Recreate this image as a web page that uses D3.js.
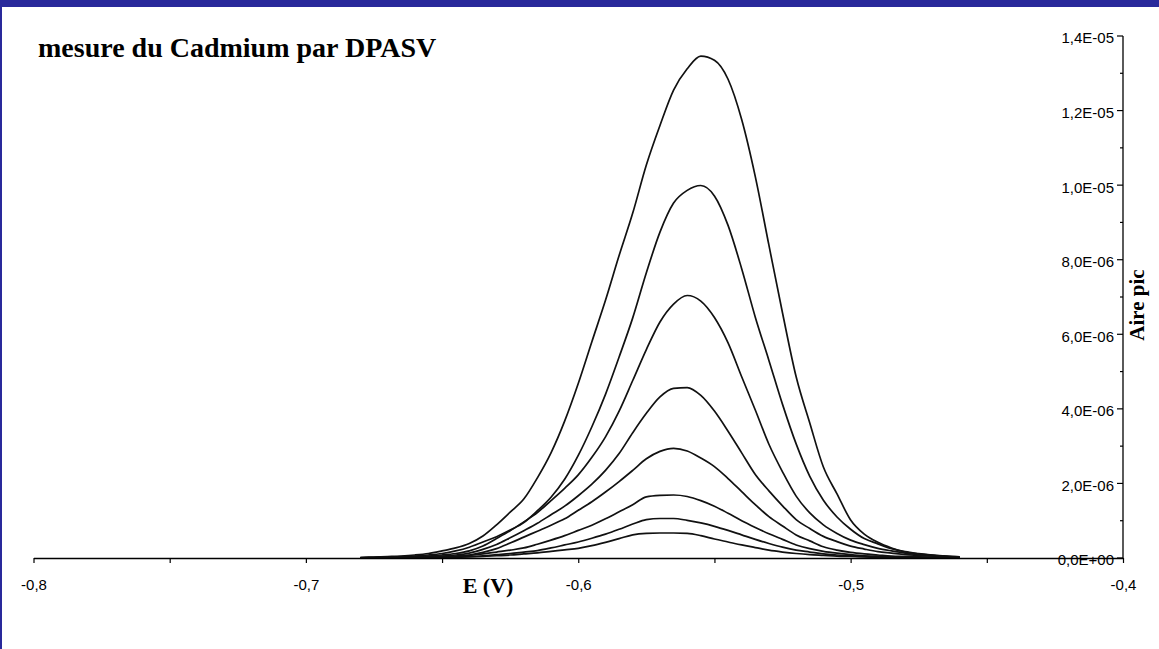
<!DOCTYPE html>
<html>
<head>
<meta charset="utf-8">
<script src="https://cdn.jsdelivr.net/npm/d3@7"></script>
<style>
  body { margin: 0; background: #ffffff; }
  text { fill: #000; }
</style>
</head>
<body>
<div id="main"><svg width="1159" height="649"></svg></div>
<script>
var svg = d3.select("#main svg");

var svgWidth = +svg.attr('width');
var svgHeight = +svg.attr('height');

// potentiel E (V), pas de 5 mV
var E = [-0.680, -0.675, -0.670, -0.665, -0.660, -0.655, -0.650, -0.645, -0.640,
  -0.635, -0.630, -0.625, -0.620, -0.615, -0.610, -0.605, -0.600, -0.595, -0.590,
  -0.585, -0.580, -0.575, -0.570, -0.565, -0.560, -0.555, -0.550, -0.545, -0.540,
  -0.535, -0.530, -0.525, -0.520, -0.515, -0.510, -0.505, -0.500, -0.495, -0.490,
  -0.485, -0.480, -0.475, -0.470, -0.465, -0.460];

// courants (x 1E-06), une courbe par ajout
var curve1 = [0.013, 0.027, 0.04, 0.054, 0.08, 0.12, 0.19, 0.27, 0.39, 0.59, 0.89,
  1.23, 1.58, 2.15, 2.82, 3.67, 4.68, 5.80, 6.91, 8.11, 9.25, 10.54, 11.60, 12.55,
  13.12, 13.46, 13.35, 12.84, 11.76, 10.23, 8.39, 6.57, 4.86, 3.62, 2.44, 1.72,
  1.02, 0.64, 0.42, 0.27, 0.16, 0.11, 0.07, 0.04, 0.03];
var curve2 = [0.008, 0.013, 0.027, 0.04, 0.054, 0.08, 0.12, 0.19, 0.29, 0.43, 0.57,
  0.75, 0.95, 1.27, 1.63, 2.11, 2.75, 3.52, 4.39, 5.39, 6.44, 7.65, 8.74, 9.52,
  9.86, 9.99, 9.71, 8.92, 7.76, 6.46, 5.30, 4.12, 3.06, 2.19, 1.55, 1.10, 0.77,
  0.52, 0.38, 0.25, 0.17, 0.12, 0.08, 0.05, 0.03];
var curve3 = [0.005, 0.011, 0.019, 0.027, 0.04, 0.054, 0.08, 0.12, 0.19, 0.32, 0.52,
  0.73, 0.97, 1.22, 1.54, 1.87, 2.23, 2.70, 3.25, 3.94, 4.76, 5.59, 6.33, 6.81,
  7.04, 6.89, 6.45, 5.77, 4.86, 3.97, 3.05, 2.31, 1.66, 1.21, 0.89, 0.66, 0.48,
  0.36, 0.26, 0.19, 0.13, 0.09, 0.07, 0.05, 0.03];
var curve4 = [0.005, 0.008, 0.013, 0.021, 0.027, 0.04, 0.054, 0.08, 0.13, 0.23, 0.36,
  0.54, 0.73, 0.93, 1.16, 1.39, 1.67, 1.98, 2.35, 2.80, 3.36, 3.88, 4.32, 4.55,
  4.57, 4.36, 3.94, 3.40, 2.82, 2.24, 1.80, 1.40, 1.03, 0.79, 0.58, 0.44, 0.32,
  0.24, 0.17, 0.13, 0.09, 0.07, 0.05, 0.03, 0.02];
var curve5 = [0.003, 0.005, 0.011, 0.016, 0.021, 0.027, 0.04, 0.054, 0.08, 0.15, 0.25,
  0.40, 0.56, 0.72, 0.88, 1.05, 1.28, 1.51, 1.77, 2.05, 2.35, 2.66, 2.86, 2.94,
  2.87, 2.68, 2.45, 2.13, 1.78, 1.43, 1.11, 0.86, 0.62, 0.46, 0.30, 0.21, 0.15,
  0.11, 0.08, 0.05, 0.04, 0.03, 0.02, 0.013, 0.008];
var curve6 = [0.003, 0.003, 0.005, 0.011, 0.016, 0.021, 0.027, 0.04, 0.07, 0.11, 0.16,
  0.21, 0.27, 0.37, 0.48, 0.60, 0.74, 0.88, 1.05, 1.24, 1.43, 1.64, 1.68, 1.69,
  1.65, 1.54, 1.39, 1.20, 1.00, 0.82, 0.65, 0.50, 0.35, 0.25, 0.18, 0.13, 0.09,
  0.06, 0.05, 0.03, 0.02, 0.016, 0.011, 0.008, 0.005];
var curve7 = [0.003, 0.003, 0.003, 0.005, 0.008, 0.013, 0.019, 0.027, 0.04, 0.06, 0.09,
  0.12, 0.16, 0.20, 0.27, 0.35, 0.43, 0.53, 0.64, 0.77, 0.91, 1.03, 1.06, 1.06,
  1.01, 0.94, 0.85, 0.74, 0.62, 0.50, 0.39, 0.29, 0.21, 0.16, 0.11, 0.08, 0.06,
  0.04, 0.03, 0.02, 0.013, 0.011, 0.008, 0.005, 0.003];
var curve8 = [0.002, 0.003, 0.003, 0.004, 0.005, 0.008, 0.013, 0.019, 0.027, 0.04, 0.06,
  0.08, 0.11, 0.14, 0.18, 0.22, 0.26, 0.33, 0.42, 0.52, 0.62, 0.66, 0.67, 0.67,
  0.66, 0.60, 0.51, 0.43, 0.35, 0.28, 0.21, 0.16, 0.12, 0.09, 0.07, 0.05, 0.04,
  0.03, 0.02, 0.016, 0.011, 0.008, 0.005, 0.003, 0.003];

var curves = [curve1, curve2, curve3, curve4, curve5, curve6, curve7, curve8];

var xTicks = [-0.8, -0.75, -0.7, -0.65, -0.6, -0.55, -0.5, -0.45, -0.4];
var yTicks = [0, 2, 4, 6, 8, 10, 12, 14];
var yMinor = [1, 3, 5, 7, 9, 11, 13];

// cadre bleu (haut + gauche)
svg.append('rect').attr('x', 0).attr('y', 0)
    .attr('width', svgWidth).attr('height', 7)
    .attr('fill', '#29299b');
svg.append('rect').attr('x', 0).attr('y', 0)
    .attr('width', 2).attr('height', svgHeight)
    .attr('fill', '#29299b');

var xScale = d3.scaleLinear()
    .domain([-0.8, -0.4])
    .range([33.5, 1123]);

var yScale = d3.scaleLinear()
    .domain([0, 14])
    .range([558, 36]);

function fmtX(d) {
  return d3.format('.1f')(d).replace('.', ',').replace('−', '-');
}

function fmtY(d) {
  var s = (d * 1e-6).toExponential(1);   // "1.4e-5"
  if (d == 0) return '0,0E+00';
  var parts = s.split('e');
  var ex = +parts[1];
  var exStr = (ex < 0 ? '-' : '+') + (Math.abs(ex) < 10 ? '0' : '') + Math.abs(ex);
  return parts[0].replace('.', ',') + 'E' + exStr;
}

// axe Y a droite
var yAxisG = svg.append('g')
    .attr('transform', 'translate(' + [xScale(-0.4), 0] + ')');

yAxisG.append('line')
    .attr('x1', 0).attr('x2', 0)
    .attr('y1', yScale(14)).attr('y2', yScale(0))
    .attr('stroke', '#000').attr('stroke-width', 1.3);

yAxisG.selectAll('.ymaj').data(yTicks)
  .enter().append('line')
    .attr('class', 'ymaj')
    .attr('x1', -6).attr('x2', 0)
    .attr('y1', function(d) { return yScale(d); })
    .attr('y2', function(d) { return yScale(d); })
    .attr('stroke', '#000').attr('stroke-width', 1.2);

yAxisG.selectAll('.ymin').data(yMinor)
  .enter().append('line')
    .attr('class', 'ymin')
    .attr('x1', -3).attr('x2', 0)
    .attr('y1', function(d) { return yScale(d); })
    .attr('y2', function(d) { return yScale(d); })
    .attr('stroke', '#000').attr('stroke-width', 1.2);

yAxisG.selectAll('.ylab').data(yTicks)
  .enter().append('text')
    .attr('class', 'ylab')
    .attr('x', -9)
    .attr('y', function(d) { return yScale(d) + 2; })
    .attr('dy', '0.36em')
    .attr('text-anchor', 'end')
    .style('font-family', '"Liberation Sans", Arial, sans-serif')
    .style('font-size', '15px')
    .text(fmtY);

// courbes
var line = d3.line()
    .x(function(d, i) { return xScale(E[i]); })
    .y(function(d) { return yScale(d); })
    .curve(d3.curveMonotoneX);

svg.append('g').selectAll('.curve').data(curves)
  .enter().append('path')
    .attr('class', 'curve')
    .attr('d', line)
    .attr('fill', 'none')
    .attr('stroke', '#111')
    .attr('stroke-width', 1.7);

// axe X
var xAxis = d3.axisBottom(xScale)
    .tickValues(xTicks)
    .tickSize(5)
    .tickSizeOuter(0)
    .tickFormat(function(d, i) { return i % 2 == 0 ? fmtX(d) : ''; });

var xAxisG = svg.append('g')
    .attr('transform', 'translate(' + [0, yScale(0)] + ')')
    .call(xAxis);

xAxisG.select('.domain').attr('stroke', '#000').attr('stroke-width', 1.3);
xAxisG.selectAll('.tick line').attr('stroke', '#000').attr('stroke-width', 1.2);
xAxisG.selectAll('.tick text')
    .attr('y', 27)
    .attr('dy', '0.36em')
    .style('fill', '#000')
    .style('font-family', '"Liberation Sans", Arial, sans-serif')
    .style('font-size', '15px');

// titres
svg.append('text')
    .attr('x', 38)
    .attr('y', 57)
    .style('font-family', '"Liberation Serif", "Times New Roman", serif')
    .style('font-weight', 'bold')
    .style('font-size', '28px')
    .text('mesure du Cadmium par DPASV');

svg.append('text')
    .attr('x', 488)
    .attr('y', yScale(0) + 27)
    .attr('dy', '0.36em')
    .attr('text-anchor', 'middle')
    .style('font-family', '"Liberation Serif", "Times New Roman", serif')
    .style('font-weight', 'bold')
    .style('font-size', '22px')
    .text('E (V)');

svg.append('text')
    .attr('transform', 'translate(' + [1144, 305] + ') rotate(-90)')
    .attr('text-anchor', 'middle')
    .style('font-family', '"Liberation Serif", "Times New Roman", serif')
    .style('font-weight', 'bold')
    .style('font-size', '21px')
    .text('Aire pic');
</script>
</body>
</html>
